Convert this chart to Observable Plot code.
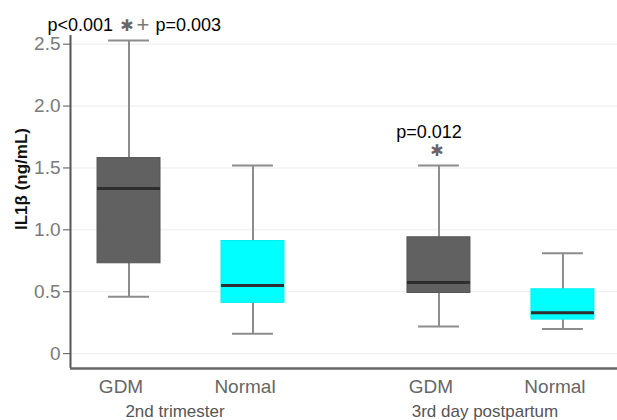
<!DOCTYPE html>
<html>
<head>
<meta charset="utf-8">
<script src="https://cdn.jsdelivr.net/npm/d3@7"></script>
<script src="https://cdn.jsdelivr.net/npm/@observablehq/plot@0.6"></script>
<style>
  html, body { margin: 0; padding: 0; background: #fff; }
  #chart svg { display: block; }
</style>
</head>
<body>
<div id="chart"></div>
<script>
// ---- data ----
const categories = ["GDM", "Normal", "GDM", "Normal"];
const periods = ["2nd trimester", "2nd trimester", "3rd day postpartum", "3rd day postpartum"];
const periodNames = ["2nd trimester", "3rd day postpartum"];
const whiskerLow = [0.46, 0.16, 0.22, 0.20];
const q1 = [0.73, 0.41, 0.49, 0.275];
const median = [1.335, 0.55, 0.575, 0.33];
const q3 = [1.58, 0.91, 0.94, 0.52];
const whiskerHigh = [2.53, 1.52, 1.52, 0.81];
const yTicks = [0, 0.5, 1.0, 1.5, 2.0, 2.5];
const yTickLabels = ["0", "0.5", "1.0", "1.5", "2.0", "2.5"];
const pLabels = ["p<0.001", "p=0.003", "p=0.012"];
const pBox = [0, 0, 2];
const starBoxes = [0, 2];
const plusBoxes = [0];

// ---- layout helpers (positions derived from category/period order) ----
const periodGap = 0.5;
const rows = categories.map((c, i) => {
  const pi = periodNames.indexOf(periods[i]);
  const ci = i - periods.indexOf(periods[i]);
  return {
    i, cat: c, period: periods[i],
    pos: 1 + pi * (2 + periodGap) + ci,
    lo: whiskerLow[i], q1: q1[i], med: median[i], q3: q3[i], hi: whiskerHigh[i]
  };
});
const groupCenters = periodNames.map(p => d3.mean(rows.filter(r => r.period === p), r => r.pos));
const halfBox = 0.254, halfCap = 0.165;
const xDomain = [0.528, 4.94];
const yDomain = [-0.12, 2.57];
const font = "Liberation Sans, Arial, sans-serif";

const pRows = pLabels.map((t, k) => ({ t, k, pos: rows[pBox[k]].pos, hi: rows[pBox[k]].hi }));

const chart = Plot.plot({
  width: 617,
  height: 420,
  marginLeft: 70,
  marginRight: 0,
  marginTop: 35,
  marginBottom: 52,
  style: { fontFamily: font, background: "#fff" },
  x: { type: "linear", domain: xDomain, axis: null },
  y: { domain: yDomain, axis: null },
  marks: [
    // faint gridlines
    Plot.ruleY(yTicks, { stroke: "#ececec", strokeWidth: 1 }),
    // whiskers
    Plot.ruleX(rows, { x: "pos", y1: "lo", y2: "q1", stroke: "#8c8c8c", strokeWidth: 2 }),
    Plot.ruleX(rows, { x: "pos", y1: "q3", y2: "hi", stroke: "#8c8c8c", strokeWidth: 2 }),
    Plot.ruleY(rows, { y: "lo", x1: d => d.pos - halfCap, x2: d => d.pos + halfCap, stroke: "#8c8c8c", strokeWidth: 2 }),
    Plot.ruleY(rows, { y: "hi", x1: d => d.pos - halfCap, x2: d => d.pos + halfCap, stroke: "#8c8c8c", strokeWidth: 2 }),
    // boxes
    Plot.rect(rows, {
      x1: d => d.pos - halfBox, x2: d => d.pos + halfBox, y1: "q1", y2: "q3",
      fill: d => d.cat === "GDM" ? "#616161" : "#00ffff",
      stroke: d => d.cat === "GDM" ? "#555555" : "#00f0f0",
      strokeWidth: 1
    }),
    // medians
    Plot.ruleY(rows, { y: "med", x1: d => d.pos - halfBox, x2: d => d.pos + halfBox, stroke: "#2e2e2e", strokeWidth: 3 }),
    // axis lines
    Plot.ruleX([xDomain[0]], { stroke: "#555", strokeWidth: 2 }),
    Plot.ruleY([yDomain[0]], { stroke: "#666", strokeWidth: 2.5 }),
    // y axis
    Plot.axisY({
      ticks: yTicks, tickFormat: (d, i) => yTickLabels[i],
      tickSize: 7, tickPadding: 3, stroke: "#555", fill: "#7a7a7a",
      fontSize: 19, label: null
    }),
    // x category labels
    Plot.axisX({
      ticks: rows.map(r => r.pos), tickFormat: (d, i) => categories[i],
      tickSize: 0, tickPadding: 11, fill: "#666", fontSize: 19, dx: -8, label: null
    }),
    // period labels
    Plot.axisX({
      ticks: groupCenters, tickFormat: (d, i) => periodNames[i],
      tickSize: 0, tickPadding: 36, fill: "#555", fontSize: 17, dx: -16, label: null
    }),
    // y axis title
    Plot.text(["IL1β (ng/mL)"], {
      frameAnchor: "left", rotate: -90, dx: -49, dy: -23,
      fontSize: 17, fontWeight: "bold", fill: "#111", textAnchor: "middle"
    }),
    // significance marks
    Plot.text(starBoxes.map(i => rows[i]), {
      x: "pos", y: "hi", text: () => "✱", dx: -2, dy: -15,
      fontFamily: "DejaVu Sans", fontSize: 16, fill: "#666", lineAnchor: "middle"
    }),
    Plot.text(plusBoxes.map(i => rows[i]), {
      x: "pos", y: "hi", text: () => "+", dx: 14, dy: -15,
      fontSize: 22, fill: "#777", lineAnchor: "middle"
    }),
    Plot.text(pRows.filter(d => d.k === 0), {
      x: "pos", y: "hi", text: "t", dx: -16, dy: -15.5, textAnchor: "end",
      fontSize: 18, fill: "#000", lineAnchor: "middle"
    }),
    Plot.text(pRows.filter(d => d.k === 1), {
      x: "pos", y: "hi", text: "t", dx: 26.5, dy: -15.5, textAnchor: "start",
      fontSize: 18, fill: "#000", lineAnchor: "middle"
    }),
    Plot.text(pRows.filter(d => d.k === 2), {
      x: "pos", y: "hi", text: "t", dx: -10, dy: -33.5, textAnchor: "middle",
      fontSize: 18, fill: "#000", lineAnchor: "middle"
    })
  ]
});
document.getElementById("chart").append(chart);
</script>
</body>
</html>
